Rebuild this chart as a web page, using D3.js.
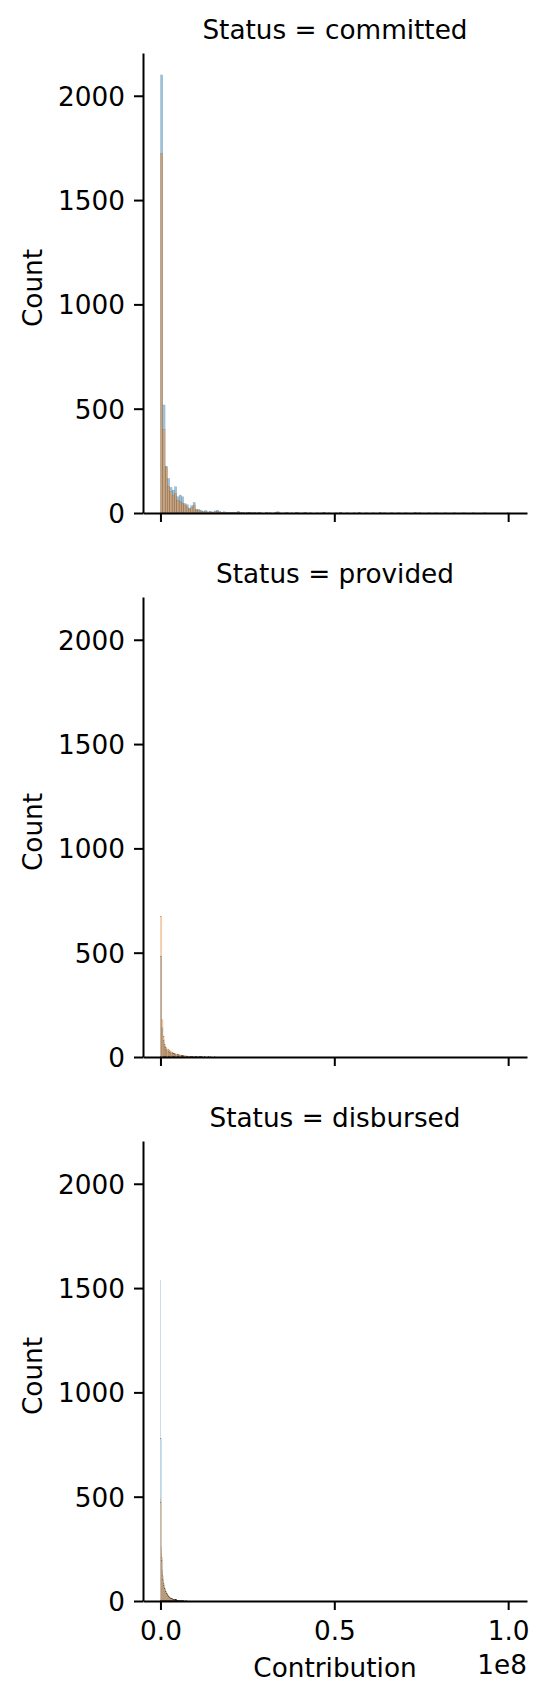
<!DOCTYPE html>
<html>
<head>
<meta charset="utf-8">
<script src="https://cdnjs.cloudflare.com/ajax/libs/d3/7.8.5/d3.min.js"></script>
<style>
  body { margin: 0; background: #ffffff; }
  text { font-family: "DejaVu Sans", sans-serif; fill: #000000; }
</style>
</head>
<body>
<div id="chart"></div>
<script>
// facet (row) names
var statuses = ["committed", "provided", "disbursed"];

// bin width (Contribution units) used in each facet
var binWidths = [669000, 370000, 144000];

// counts per bin - committed
var blueCommitted = [
  2100, 518, 225, 166, 123, 110, 126, 78, 86, 78,
  46, 40, 24, 35, 51, 19, 17, 13, 8, 12,
  6, 9, 5, 10, 14, 8, 4, 6, 3, 4,
  3, 2, 4, 9, 2, 3, 1, 2, 4, 1,
  2, 1, 3, 1, 0, 2, 1, 1, 0, 2,
  7, 1, 0, 1, 2, 0, 1, 0, 3, 1,
  0, 1, 1, 0, 2, 0, 0, 1, 0, 1,
  4, 0, 1, 0, 0, 1, 0, 2, 0, 0,
  1, 0, 0, 1, 0, 3, 0, 0, 1, 0,
  0, 1, 0, 0, 2, 0, 1, 0, 0, 1,
  0, 0, 1, 0, 0, 1, 0, 0, 0, 2,
  0, 1, 0, 0, 0, 1, 0, 0, 1, 0,
  0, 0, 1, 0, 0, 0, 1, 0, 0, 0,
  1, 0, 0, 0, 1, 0, 0, 0, 0, 1,
  0, 0, 0, 0, 0, 0, 0, 0, 0, 1
];
var orangeCommitted = [
  1724, 401, 219, 129, 102, 86, 95, 60, 57, 48,
  38, 29, 19, 25, 38, 13, 11, 8, 5, 7,
  4, 5, 3, 6, 8, 4, 2, 3, 1, 2,
  2, 1, 2, 4, 1, 1, 0, 1, 2, 0,
  1, 0, 1, 0, 0, 1, 0, 0, 0, 1,
  3, 0, 0, 0, 1, 0, 0, 0, 1, 0,
  0, 0, 1, 0, 0, 0, 0, 0, 0, 0,
  1, 0, 0, 0, 0, 0, 0, 1, 0, 0,
  0, 0, 0, 0, 0, 1, 0, 0, 0, 0,
  0, 0, 0, 0, 1, 0, 0, 0, 0, 0,
  0, 0, 0, 0, 0, 0, 0, 0, 0, 1
];

// counts per bin - provided
var blueProvided = [
  484, 140, 80, 50, 38, 32, 27, 24, 20, 18,
  15, 13, 11, 10, 9, 8, 7, 6, 5, 5,
  4, 4, 3, 3, 2, 2, 2, 2, 1, 1,
  1, 1, 1, 0, 1, 0, 0, 1
];
var orangeProvided = [
  675, 180, 100, 62, 48, 40, 34, 30, 26, 22,
  19, 17, 15, 13, 12, 10, 9, 8, 7, 6,
  5, 5, 4, 4, 3, 3, 3, 2, 2, 2,
  2, 1, 1, 1, 1, 0, 1, 1, 0, 1,
  0, 0, 1
];

// counts per bin - disbursed
var blueDisbursed = [
  1539, 780, 260, 210, 150, 120, 100, 85, 70, 62,
  55, 48, 42, 38, 34, 30, 26, 22, 20, 18,
  16, 14, 13, 12, 11, 10, 9, 8, 7, 7,
  6, 5, 5, 4, 4, 3, 3, 3, 2, 2,
  2, 2, 1, 2, 1, 1, 1, 1, 0, 1,
  1, 0, 1, 0, 0, 1
];
var orangeDisbursed = [
  492, 470, 230, 196, 140, 105, 90, 75, 68, 60,
  50, 45, 40, 36, 30, 28, 25, 22, 19, 17,
  15, 14, 12, 11, 10, 9, 8, 8, 7, 6,
  6, 5, 4, 4, 3, 3, 3, 2, 2, 2,
  1, 1, 2, 1, 1, 0, 1, 1, 0, 1
];

var blueSeries = [blueCommitted, blueProvided, blueDisbursed];
var orangeSeries = [orangeCommitted, orangeProvided, orangeDisbursed];

// axis ticks
var yTicks = [0, 500, 1000, 1500, 2000];
var xTicks = [0, 0.5e8, 1e8];
var xTickLabels = ["0.0", "0.5", "1.0"];
var xDomain = [-5020000, 105420000];
var yDomain = [0, 2205];

var svgWidth = 548;
var svgHeight = 1702;

var margin = { top: 53, left: 143 };
var width = 384;
var panelHeight = 460;
var panelStep = 544;
var fontSize = 26.3;

var svg = d3.select("#chart")
  .append("svg")
  .attr("width", svgWidth)
  .attr("height", svgHeight);

var xScale = d3.scaleLinear()
  .domain(xDomain)
  .range([0, width]);

var yScale = d3.scaleLinear()
  .domain(yDomain)
  .range([panelHeight, 0]);

statuses.forEach(function(status, p) {
  var chartGroup = svg.append("g")
    .attr("transform", `translate(${margin.left}, ${margin.top + p * panelStep})`);

  var bw = binWidths[p];

  // turn bin counts into bars, blue first then orange on top
  [[blueSeries[p], "#1f77b4"], [orangeSeries[p], "#ff7f0e"]].forEach(function(s) {
    var bins = s[0].map(function(c, i) {
      return { x0: i * bw, x1: (i + 1) * bw, count: c };
    }).filter(function(b) { return b.count > 0; });

    chartGroup.append("g")
      .selectAll("rect")
      .data(bins)
      .enter()
      .append("rect")
      .attr("x", d => xScale(d.x0))
      .attr("width", d => xScale(d.x1) - xScale(d.x0))
      .attr("y", d => yScale(d.count))
      .attr("height", d => yScale(0) - yScale(d.count))
      .attr("fill", s[1])
      .attr("fill-opacity", 0.45)
      .attr("stroke", "#000")
      .attr("stroke-opacity", 0.35)
      .attr("stroke-width", d => 0.1 * (xScale(d.x1) - xScale(d.x0)));
  });

  // axes
  var leftAxis = d3.axisLeft(yScale)
    .tickValues(yTicks)
    .tickSize(9)
    .tickSizeOuter(0)
    .tickPadding(9)
    .tickFormat(d3.format("d"));

  var bottomAxis = d3.axisBottom(xScale)
    .tickValues(xTicks)
    .tickSize(9)
    .tickSizeOuter(0)
    .tickPadding(9)
    .tickFormat(function(d, i) { return p === statuses.length - 1 ? xTickLabels[i] : ""; });

  var yAxis = chartGroup.append("g")
    .call(leftAxis);

  var xAxis = chartGroup.append("g")
    .attr("transform", `translate(0, ${panelHeight})`)
    .call(bottomAxis);

  [yAxis, xAxis].forEach(function(ax) {
    ax.attr("font-family", null).attr("font-size", fontSize);
    ax.selectAll("path, line").attr("stroke-width", 2).attr("stroke", "#000");
    ax.selectAll("text").attr("fill", "#000");
  });
  yAxis.selectAll("text").attr("dy", "0.36em");
  xAxis.selectAll("text").attr("dy", "0.8em");

  // facet title
  chartGroup.append("text")
    .attr("x", 192)
    .attr("y", -14)
    .attr("text-anchor", "middle")
    .attr("font-size", fontSize)
    .text("Status = " + status);

  // y label
  chartGroup.append("text")
    .attr("transform", "rotate(-90)")
    .attr("x", -(panelHeight / 2) - 5)
    .attr("y", 41.5 - margin.left)
    .attr("text-anchor", "middle")
    .attr("font-size", fontSize)
    .text("Count");

  if (p === statuses.length - 1) {
    chartGroup.append("text")
      .attr("x", width / 2)
      .attr("y", panelHeight + 76)
      .attr("text-anchor", "middle")
      .attr("font-size", fontSize)
      .text("Contribution");

    // offset text
    chartGroup.append("text")
      .attr("x", width)
      .attr("y", panelHeight + 73)
      .attr("text-anchor", "end")
      .attr("font-size", fontSize)
      .text("1e8");
  }
});
</script>
</body>
</html>
